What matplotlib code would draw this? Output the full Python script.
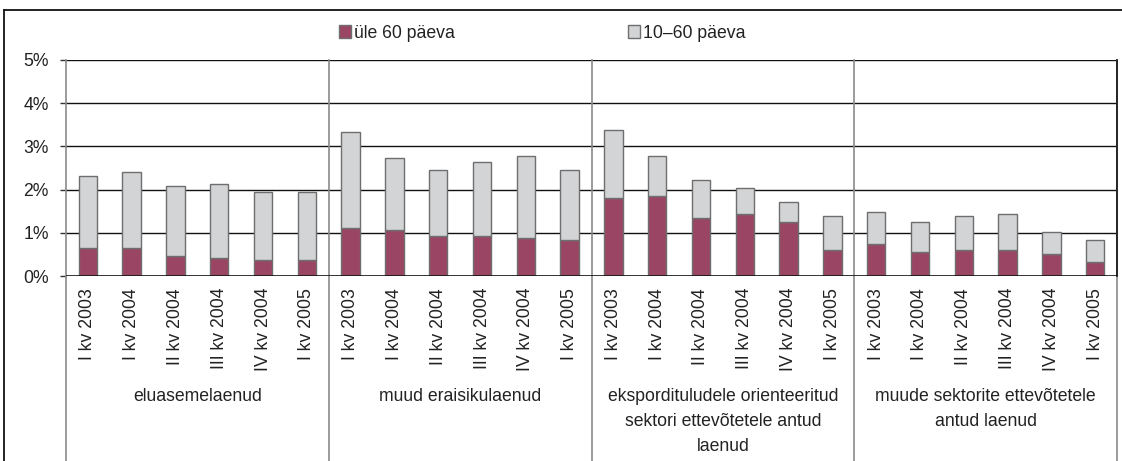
import matplotlib.pyplot as plt
from matplotlib.lines import Line2D
from matplotlib.patches import Patch
import numpy as np

plt.rcParams['font.family'] = ['Liberation Sans', 'DejaVu Sans']

# quarter labels for each group
quarters = ['I kv 2003', 'I kv 2004', 'II kv 2004', 'III kv 2004', 'IV kv 2004', 'I kv 2005']
groups = ['eluasemelaenud',
          'muud eraisikulaenud',
          'eksporditulude' + 'le orienteeritud\nsektori ettevõtetele antud\nlaenud',
          'muude sektorite ettevõtetele\nantud laenud']

# over 60 days (bottom segment), %
over60 = [0.65, 0.65, 0.46, 0.42, 0.37, 0.37,
          1.11, 1.06, 0.93, 0.93, 0.88, 0.83,
          1.81, 1.85, 1.34, 1.44, 1.25, 0.60,
          0.74, 0.56, 0.60, 0.60, 0.51, 0.32]
# total height of the stacked bar, %
total = [2.31, 2.41, 2.08, 2.13, 1.94, 1.94,
         3.33, 2.73, 2.45, 2.64, 2.78, 2.45,
         3.38, 2.78, 2.22, 2.04, 1.71, 1.39,
         1.48, 1.25, 1.39, 1.44, 1.02, 0.83]
d10_60 = [t - o for t, o in zip(total, over60)]

dark = '#9B4564'
light = '#D3D4D6'
edge = '#6E6E6E'
txt = '#222222'
fs = 12.7

fig = plt.figure(figsize=(11.22, 4.61), dpi=100)
ax = fig.add_axes([66 / 1122, 1 - 276 / 461, (1117 - 66) / 1122, 216 / 461])

x = np.arange(len(total))
ax.bar(x, over60, width=0.42, color=dark, edgecolor=edge, linewidth=1, zorder=3)
ax.bar(x, d10_60, width=0.42, bottom=over60, color=light, edgecolor=edge, linewidth=1, zorder=3)

ax.set_xlim(-0.5, len(total) - 0.5)
ax.set_ylim(0, 5)
ax.set_yticks([0, 1, 2, 3, 4, 5])
ax.set_yticklabels(['0%', '1%', '2%', '3%', '4%', '5%'], fontsize=fs, color=txt)
for yv in [1, 2, 3, 4, 5]:
    ax.axhline(yv, color='#111111', linewidth=1, zorder=1)
ax.axhline(0, color='#111111', linewidth=1.2, zorder=4)

ax.set_xticks(x)
ax.set_xticklabels(quarters * 4, rotation=90, fontsize=fs, color=txt, va='top')
ax.tick_params(axis='x', length=0, pad=8.6)
ax.tick_params(axis='y', length=4.3, width=1, color='#333333', pad=8)

for s in ['top', 'bottom', 'left', 'right']:
    ax.spines[s].set_visible(False)

# group separators running down through the label area
for xs in [-0.5, 5.5, 11.5, 17.5, 23.5]:
    ax.plot([xs, xs], [-0.86, 1], transform=ax.get_xaxis_transform(),
            color='#8A8A8A', linewidth=1.2, clip_on=False, zorder=2)
ax.plot([23.5, 23.5], [0, 1], transform=ax.get_xaxis_transform(),
        color='#111111', linewidth=1.2, clip_on=False, zorder=4)

# group names
for i, g in enumerate(groups):
    ax.text(i * 6 + 2.5, -0.52, g, transform=ax.get_xaxis_transform(),
            ha='center', va='top', fontsize=fs, color=txt, linespacing=1.6)

# legend
handles = [Patch(facecolor=dark, edgecolor=edge, label='üle 60 päeva'),
           Patch(facecolor=light, edgecolor=edge, label='10–60 päeva')]
fig.legend(handles=handles, loc='center', bbox_to_anchor=(542 / 1122, 1 - 33 / 461),
           ncol=2, frameon=False, fontsize=fs, handlelength=0.7, handleheight=0.8,
           handletextpad=0.15, columnspacing=9.8, labelcolor=txt)

# outer frame (top and left edges)
fig.add_artist(Line2D([4 / 1122, 1], [1 - 10 / 461, 1 - 10 / 461], color='#111111', linewidth=1.3))
fig.add_artist(Line2D([4 / 1122, 4 / 1122], [0, 1 - 10 / 461], color='#111111', linewidth=1.3))

fig.savefig('out.png', dpi=100)
